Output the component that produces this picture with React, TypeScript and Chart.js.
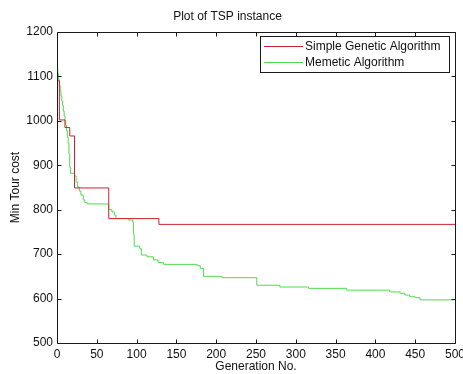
import { useEffect, useRef } from "react";
import { Chart, registerables } from "chart.js";

Chart.register(...registerables);

const chartTitle = "Plot of TSP instance";
const xAxisLabel = "Generation No.";
const yAxisLabel = "Min Tour cost";
const seriesNames = ["Simple Genetic Algorithm", "Memetic Algorithm"];
const seriesColors = ["#cc2233", "#4fdc4f"];

const sgaGenerations = [0, 3, 10, 16, 22, 65, 128, 500];
const sgaCost = [1090, 1002, 985, 966, 849, 780, 767, 767];

const maGenerations = [
  0, 1, 2, 3, 4, 5, 6, 7, 8, 9, 10, 11, 12, 13, 14, 15, 16, 17, 22, 24, 26, 28, 30, 33, 35, 38,
  65, 69, 72, 74, 90, 95, 96, 97, 104, 106, 113, 121, 127, 134, 176, 180, 184, 207, 251, 280,
  316, 364, 418, 431, 437, 443, 450, 456, 500,
];
const maCost = [
  1118, 1106, 1093, 1080, 1068, 1056, 1045, 1034, 1022, 1011, 1001, 990, 978, 963, 950, 925, 895,
  882, 876, 862, 851, 842, 833, 822, 816, 813, 800, 795, 788, 780, 777, 772, 745, 718, 712, 698,
  694, 687, 681, 677, 674, 668, 650, 647, 630, 626, 623, 619, 615, 612, 608, 604, 602, 597, 597,
];

const xTickValues = [0, 50, 100, 150, 200, 250, 300, 350, 400, 450, 500];
const yTickValues = [500, 600, 700, 800, 900, 1000, 1100, 1200];

const FONT = "'Liberation Sans', Arial, sans-serif";

const framePlugin = {
  id: "matlabFrame",
  afterDatasetsDraw(chart: any) {
    const { ctx, chartArea, scales } = chart;
    const l = Math.round(chartArea.left) + 0.5;
    const r = Math.round(chartArea.right) + 0.5;
    const t = Math.round(chartArea.top) + 0.5;
    const b = Math.round(chartArea.bottom) + 0.5;
    ctx.save();
    ctx.strokeStyle = "#1a1a1a";
    ctx.lineWidth = 1;
    ctx.beginPath();
    ctx.rect(l, t, r - l, b - t);
    const tl = 4;
    xTickValues.forEach((v) => {
      const px = Math.round(scales.x.getPixelForValue(v)) + 0.5;
      ctx.moveTo(px, b);
      ctx.lineTo(px, b - tl);
      ctx.moveTo(px, t);
      ctx.lineTo(px, t + tl);
    });
    yTickValues.forEach((v) => {
      const py = Math.round(scales.y.getPixelForValue(v)) + 0.5;
      ctx.moveTo(l, py);
      ctx.lineTo(l + tl, py);
      ctx.moveTo(r, py);
      ctx.lineTo(r - tl, py);
    });
    ctx.stroke();
    ctx.restore();
  },
  afterDraw(chart: any) {
    const { ctx, chartArea } = chart;
    ctx.save();
    ctx.font = `12px ${FONT}`;
    const names = chart.data.datasets.map((d: any) => d.label);
    const textW = Math.max(...names.map((n: string) => ctx.measureText(n).width));
    const boxW = Math.round(textW + 54);
    const boxH = 36;
    const right = Math.round(chartArea.right) - 6;
    const left = right - boxW;
    const top = Math.round(chartArea.top) + 4;
    ctx.fillStyle = "#ffffff";
    ctx.fillRect(left, top, boxW, boxH);
    ctx.strokeStyle = "#1a1a1a";
    ctx.lineWidth = 1;
    ctx.strokeRect(left + 0.5, top + 0.5, boxW, boxH);
    chart.data.datasets.forEach((d: any, i: number) => {
      const cy = top + 10 + i * 16;
      ctx.strokeStyle = d.borderColor;
      ctx.beginPath();
      ctx.moveTo(left + 4, cy + 0.5);
      ctx.lineTo(left + 43, cy + 0.5);
      ctx.stroke();
      ctx.fillStyle = "#111";
      ctx.textAlign = "left";
      ctx.textBaseline = "middle";
      ctx.fillText(d.label, left + 45, cy + 0.5);
    });
    ctx.restore();
  },
};

export default function App() {
  const canvasRef = useRef<HTMLCanvasElement | null>(null);

  useEffect(() => {
    if (!canvasRef.current) return;
    const chart = new Chart(canvasRef.current, {
      type: "line",
      data: {
        datasets: [
          {
            label: seriesNames[0],
            data: sgaGenerations.map((g, i) => ({ x: g, y: sgaCost[i] })),
            borderColor: seriesColors[0],
            borderWidth: 1,
            pointRadius: 0,
            stepped: "before",
            fill: false,
          },
          {
            label: seriesNames[1],
            data: maGenerations.map((g, i) => ({ x: g, y: maCost[i] })),
            borderColor: seriesColors[1],
            borderWidth: 1,
            pointRadius: 0,
            stepped: "before",
            fill: false,
          },
        ],
      },
      options: {
        responsive: false,
        animation: false,
        devicePixelRatio: 1,
        layout: { padding: { left: 0, right: 8, top: 0, bottom: 0 } },
        plugins: {
          legend: { display: false },
          tooltip: { enabled: false },
          title: {
            display: true,
            text: chartTitle,
            color: "#111",
            font: { family: FONT, size: 12, weight: "normal" },
            padding: { top: 9, bottom: 8.6 },
          },
        },
        scales: {
          x: {
            type: "linear",
            min: 0,
            max: 500,
            afterBuildTicks: (scale: any) => {
              scale.ticks = xTickValues.map((v) => ({ value: v }));
            },
            afterFit: (scale: any) => {
              scale.height = 31;
              scale.paddingLeft = 0;
              scale.paddingRight = 0;
            },
            ticks: {
              autoSkip: false,
              maxRotation: 0,
              padding: 4,
              color: "#111",
              font: { family: FONT, size: 12 },
              callback: (v: any) => String(v),
            },
            grid: { display: false, drawTicks: false },
            border: { display: false },
            title: {
              display: true,
              text: xAxisLabel,
              color: "#111",
              font: { family: FONT, size: 12 },
              padding: { top: 0, bottom: 0 },
            },
          },
          y: {
            type: "linear",
            min: 500,
            max: 1200,
            afterBuildTicks: (scale: any) => {
              scale.ticks = yTickValues.map((v) => ({ value: v }));
            },
            afterFit: (scale: any) => {
              scale.width = 57;
              scale.paddingTop = 0;
              scale.paddingBottom = 0;
            },
            ticks: {
              autoSkip: false,
              padding: 4,
              color: "#111",
              font: { family: FONT, size: 12 },
              callback: (v: any) => String(v),
            },
            grid: { display: false, drawTicks: false },
            border: { display: false },
            title: {
              display: true,
              text: yAxisLabel,
              color: "#111",
              font: { family: FONT, size: 12 },
              padding: { top: 8, bottom: 0 },
            },
          },
        },
      },
      plugins: [framePlugin],
    } as any);
    return () => chart.destroy();
  }, []);

  return (
    <div style={{ position: "absolute", left: 0, top: 0, width: 463, height: 374, background: "#fff" }}>
      <canvas ref={canvasRef} width={463} height={374} style={{ display: "block" }} />
    </div>
  );
}
